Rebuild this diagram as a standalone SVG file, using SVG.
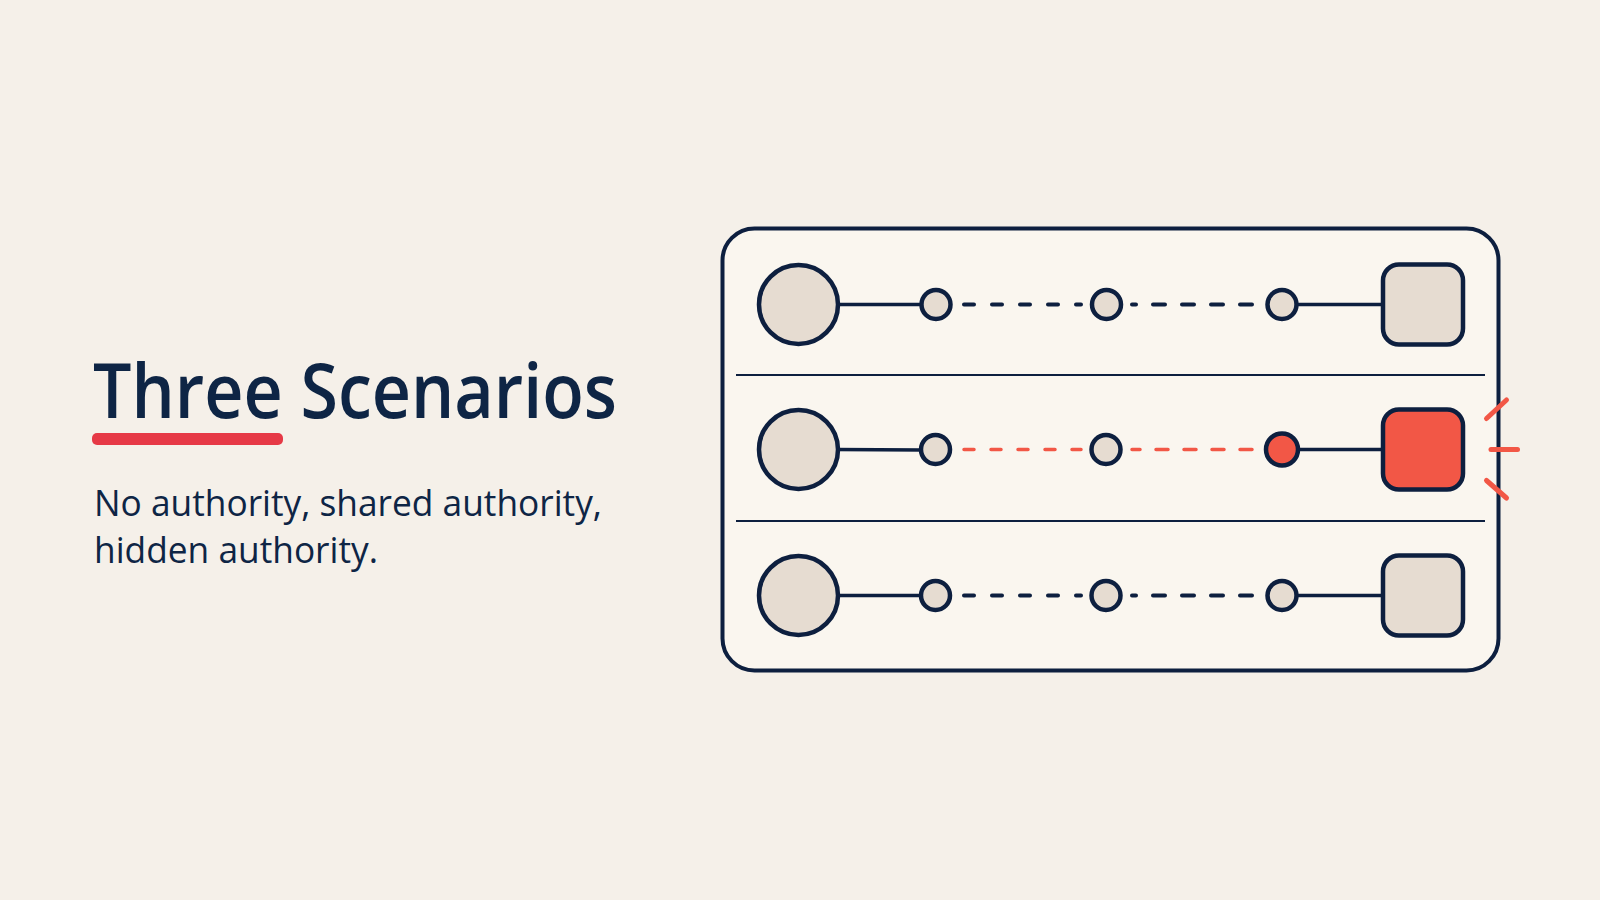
<svg xmlns="http://www.w3.org/2000/svg" width="1600" height="900" viewBox="0 0 1600 900">
<style>
.title{font-family:"Open Sans","Noto Sans","Liberation Sans",sans-serif;font-weight:600;font-size:76px;fill:#0E2545}
.sub{font-family:"Open Sans","Noto Sans","Liberation Sans",sans-serif;font-weight:400;font-size:36px;fill:#0E2545}
.node{fill:#E6DCD1;stroke:#0D1F3F;stroke-width:4.5}
.red{fill:#F25746;stroke:#0D1F3F;stroke-width:4.5}
.solid{stroke:#0D1F3F;stroke-width:3.5;fill:none}
.dash{stroke:#0D1F3F;stroke-width:4;stroke-linecap:round;fill:none}
.rdash{stroke:#F25746;stroke-width:3.5;stroke-linecap:round;fill:none}
.ray{stroke:#F25746;stroke-width:5;stroke-linecap:round}
.sep{stroke:#0D1F3F;stroke-width:2}
</style>
<rect width="1600" height="900" fill="#F5F0E9"/>
<g id="heading">
<text class="title" x="93" y="418" textLength="524" lengthAdjust="spacingAndGlyphs">Three Scenarios</text>
<rect x="92" y="433" width="191" height="12" rx="5" fill="#E63946"/>
<text class="sub" x="94" y="516" textLength="508" lengthAdjust="spacingAndGlyphs">No authority, shared authority,</text>
<text class="sub" x="94" y="563" textLength="284" lengthAdjust="spacingAndGlyphs">hidden authority.</text>
</g>
<g id="panel">
<rect x="722.5" y="228.5" width="776" height="442" rx="32" fill="#FAF6EF" stroke="#0D1F3F" stroke-width="4"/>
<line class="sep" x1="736" y1="375" x2="1485" y2="375"/>
<line class="sep" x1="736" y1="521" x2="1485" y2="521"/>
</g>
<g id="connectors">
<line class="solid" x1="836" y1="304.5" x2="922" y2="304.5"/>
<line class="dash" x1="964" y1="304.5" x2="1081" y2="304.5" stroke-dasharray="10 18"/>
<line class="dash" x1="1252" y1="304.5" x2="1132" y2="304.5" stroke-dasharray="12 17"/>
<line class="solid" x1="1296" y1="304.5" x2="1384" y2="304.5"/>
<line class="solid" x1="836" y1="449.5" x2="922" y2="450"/>
<line class="rdash" x1="964" y1="449.5" x2="1081" y2="449.5" stroke-dasharray="10 17"/>
<line class="rdash" x1="1252" y1="449.5" x2="1132" y2="449.5" stroke-dasharray="12 16"/>
<line class="solid" x1="1297" y1="449.5" x2="1384" y2="449.5"/>
<line class="solid" x1="836" y1="595.5" x2="922" y2="595.5"/>
<line class="dash" x1="964" y1="595.5" x2="1081" y2="595.5" stroke-dasharray="10 18"/>
<line class="dash" x1="1252" y1="595.5" x2="1132" y2="595.5" stroke-dasharray="12 17"/>
<line class="solid" x1="1296" y1="595.5" x2="1384" y2="595.5"/>
</g>
<g id="row1">
<circle class="node" cx="798.5" cy="304.5" r="39.5"/>
<circle class="node" cx="936" cy="304.5" r="14.5"/>
<circle class="node" cx="1106.5" cy="304.5" r="14.5"/>
<circle class="node" cx="1282" cy="304.5" r="14.5"/>
<rect class="node" x="1383" y="264.5" width="80" height="80" rx="16"/>
</g>
<g id="row2">
<circle class="node" cx="798.5" cy="449.5" r="39.5"/>
<circle class="node" cx="935.5" cy="449.5" r="14.5"/>
<circle class="node" cx="1106" cy="449.5" r="14.5"/>
<circle class="red" cx="1282" cy="449.5" r="16"/>
<rect class="red" x="1383" y="409.5" width="80" height="80" rx="16"/>
<line class="ray" x1="1486.5" y1="418.5" x2="1506.5" y2="400"/>
<line class="ray" x1="1491" y1="449.5" x2="1517.5" y2="449.5"/>
<line class="ray" x1="1486.5" y1="480.5" x2="1506.5" y2="498"/>
</g>
<g id="row3">
<circle class="node" cx="798.5" cy="595.5" r="39.5"/>
<circle class="node" cx="935.5" cy="595.5" r="14.5"/>
<circle class="node" cx="1106" cy="595.5" r="14.5"/>
<circle class="node" cx="1282" cy="595.5" r="14.5"/>
<rect class="node" x="1383" y="555.5" width="80" height="80" rx="16"/>
</g>
</svg>
